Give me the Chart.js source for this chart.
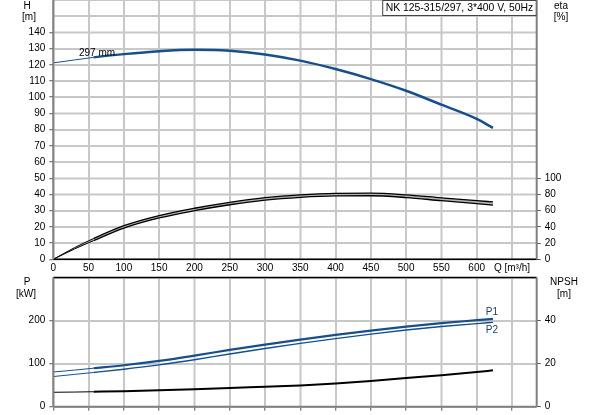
<!DOCTYPE html>
<html>
<head>
<meta charset="utf-8">
<script src="https://cdn.jsdelivr.net/npm/chart.js@4.4.0/dist/chart.umd.min.js"></script>
<style>
  html, body { margin: 0; padding: 0; background: #fff; }
  #wrap { position: relative; width: 593px; height: 415px; overflow: hidden; background: #fff; }
  canvas { position: absolute; left: 0; }
  #grid { top: 0; }
  #top { top: 0; }
  #bottom { top: 270px; }
</style>
</head>
<body>
<div id="wrap">
  <canvas id="grid" width="593" height="415"></canvas>
  <canvas id="top" width="593" height="280"></canvas>
  <canvas id="bottom" width="593" height="145"></canvas>
</div>
<script>
// flow points, m3/h
var flow = [0, 30, 57, 100, 150, 200, 250, 300, 350, 400, 450, 500, 550, 600, 623];
// head curve for the 297 mm impeller, m
var head = [121.2, 123.0, 124.6, 126.6, 128.4, 129.3, 128.7, 126.4, 122.6, 117.4, 111.2, 104.0, 95.4, 86.6, 81.1];
// efficiency, %
var etaHigh = [0, 14.3, 25.6, 41.5, 54.0, 63.0, 70.3, 76.0, 79.6, 81.4, 81.6, 79.5, 75.8, 72.3, 70.8];
var etaLow = [0, 12.7, 23.0, 38.5, 51.0, 60.0, 67.3, 73.0, 76.5, 78.3, 78.4, 76.2, 72.3, 68.6, 66.8];
// power, kW
var powerP1 = [80.5, 85.0, 89.3, 96.3, 106.3, 118.6, 131.9, 144.2, 155.8, 166.7, 176.7, 186.0, 194.0, 200.9, 204.0];
var powerP2 = [70.0, 75.0, 79.5, 87.0, 97.0, 109.0, 122.5, 135.0, 147.0, 158.0, 168.5, 178.0, 186.2, 193.0, 195.8];
// NPSH, m
var npsh = [6.7, 6.8, 6.95, 7.2, 7.6, 8.1, 8.65, 9.3, 9.9, 10.8, 11.9, 13.3, 14.6, 16.1, 16.9];

var qGrid = [0, 50, 100, 150, 200, 250, 300, 350, 400, 450, 500, 550, 600, 650];
var qLabels = ['0', '50', '100', '150', '200', '250', '300', '350', '400', '450', '500', '550', '600', 'Q [m³/h]'];
var qMin = 57;
var title = 'NK 125-315/297, 3*400 V, 50Hz';

var FONT = { family: '"Liberation Sans", Arial, sans-serif', size: 10 };
var FONTSTR = '10px "Liberation Sans", Arial, sans-serif';
var GRID = '#c8c8c8';
var BLUE = '#174f8c';

function pts(ys) {
    return flow.map(function (q, i) { return { x: q, y: ys[i] }; });
}
function fixWidth(w) {
    return function (s) { s.width = w; s.paddingTop = 0; s.paddingBottom = 0; };
}
function fixHeight(h) {
    return function (s) { s.height = h; s.paddingLeft = 0; s.paddingRight = 0; };
}
// thin line below the minimum flow
function thin(w) {
    return function (c) { return c.p1.parsed.x <= qMin ? 1 : w; };
}
function tickUpTo(max) {
    return function (c) { return c.tick && c.tick.value <= max ? '#555' : 'rgba(0,0,0,0)'; };
}

var textPlugin = {
    id: 'texts',
    afterDraw: function (chart, args, opts) {
        var ctx = chart.ctx;
        var a = chart.chartArea;
        ctx.save();
        (opts.frame || []).forEach(function (f) {
            ctx.strokeStyle = f.color;
            ctx.lineWidth = f.width;
            ctx.beginPath();
            if (f.side === 'top') { ctx.moveTo(a.left, a.top); ctx.lineTo(a.right, a.top); }
            if (f.side === 'bottom') { ctx.moveTo(a.left, a.bottom); ctx.lineTo(a.right, a.bottom); }
            if (f.side === 'left') { ctx.moveTo(a.left, a.top); ctx.lineTo(a.left, a.bottom); }
            if (f.side === 'right') { ctx.moveTo(a.right, a.top); ctx.lineTo(a.right, a.bottom); }
            ctx.stroke();
        });
        ctx.font = FONTSTR;
        ctx.textBaseline = 'middle';
        (opts.items || []).forEach(function (t) {
            ctx.fillStyle = t.color || '#000';
            ctx.textAlign = t.align || 'center';
            var x = t.x, y = t.y;
            if (t.q !== undefined) {
                x = chart.scales.x.getPixelForValue(t.q) + (t.dx || 0);
                y = chart.scales[t.axis].getPixelForValue(t.v) + (t.dy || 0);
            }
            ctx.fillText(t.text, x, y);
        });
        if (opts.box) {
            ctx.font = '10.4px "Liberation Sans", Arial, sans-serif';
            var w = ctx.measureText(opts.box).width + 7;
            ctx.fillStyle = '#fff';
            ctx.fillRect(a.right - w, a.top, w, 15.5);
            ctx.strokeStyle = '#444';
            ctx.lineWidth = 1;
            ctx.strokeRect(a.right - w + 0.5, a.top + 0.5, w - 1, 15);
            ctx.fillStyle = '#000';
            ctx.textAlign = 'left';
            ctx.fillText(opts.box, a.right - w + 3.5, a.top + 8);
        }
        ctx.restore();
    }
};

var xScale = function (showLabels, height) {
    return {
        type: 'linear', min: 0, max: 685,
        afterBuildTicks: function (s) {
            s.ticks = qGrid.map(function (v) { return { value: v }; });
        },
        ticks: {
            display: showLabels, font: FONT, color: '#000', padding: 3,
            maxRotation: 0, autoSkip: false,
            callback: function (v, i) { return qLabels[i]; }
        },
        grid: {
            color: GRID, lineWidth: 1.5, drawTicks: !showLabels, tickLength: 4,
            tickColor: '#555', tickWidth: 1
        },
        border: { display: false },
        afterFit: fixHeight(height)
    };
};

var topChart = new Chart(document.getElementById('top'), {
    type: 'line',
    data: {
        datasets: [{
            data: pts(head), yAxisID: 'y', borderColor: BLUE, borderWidth: 2.5,
            segment: { borderWidth: thin(2.5) }
        }, {
            data: pts(etaHigh), yAxisID: 'y1', borderColor: '#000', borderWidth: 1.3,
            segment: { borderWidth: thin(1.3) }
        }, {
            data: pts(etaLow), yAxisID: 'y1', borderColor: '#000', borderWidth: 1.3,
            fill: '-1', backgroundColor: '#b4b4b4',
            segment: { borderWidth: thin(1.3) }
        }]
    },
    options: {
        responsive: false,
        animation: false,
        layout: { padding: 0 },
        elements: { point: { radius: 0 }, line: { cubicInterpolationMode: 'monotone' } },
        plugins: {
            legend: { display: false },
            tooltip: { enabled: false },
            texts: {
                box: title,
                frame: [
                    { side: 'bottom', color: '#000', width: 1.5 },
                    { side: 'left', color: '#808080', width: 2 },
                    { side: 'right', color: '#808080', width: 2 }
                ],
                items: [
                    { text: 'H', x: 27, y: 6 },
                    { text: '[m]', x: 29, y: 17.5 },
                    { text: 'eta', x: 561, y: 6 },
                    { text: '[%]', x: 561, y: 17.5 },
                    { text: '297 mm', q: 36.4, axis: 'y', v: 127, align: 'left' }
                ]
            }
        },
        scales: {
            x: xScale(true, 280 - 259.3),
            y: {
                position: 'left', min: 0, max: 160,
                ticks: {
                    stepSize: 10, font: FONT, color: '#000', padding: 4,
                    callback: function (v) { return v <= 140 ? v : ''; }
                },
                grid: { color: GRID, lineWidth: 1.5, tickLength: 4, tickColor: tickUpTo(140), tickWidth: 1 },
                border: { display: false },
                afterFit: fixWidth(53.3)
            },
            y1: {
                position: 'right', min: 0, max: 320,
                ticks: {
                    stepSize: 20, font: FONT, color: '#000', padding: 4,
                    callback: function (v) { return v <= 100 ? v : ''; }
                },
                grid: { drawOnChartArea: false, tickLength: 4, tickColor: tickUpTo(100), tickWidth: 1 },
                border: { display: false },
                afterFit: fixWidth(593 - 536.7)
            }
        }
    },
    plugins: [textPlugin]
});

var bottomChart = new Chart(document.getElementById('bottom'), {
    type: 'line',
    data: {
        datasets: [{
            data: pts(powerP1), yAxisID: 'y', borderColor: BLUE, borderWidth: 2.2,
            segment: { borderWidth: thin(2.2) }
        }, {
            data: pts(powerP2), yAxisID: 'y', borderColor: BLUE, borderWidth: 1.4,
            segment: { borderWidth: thin(1.4) }
        }, {
            data: pts(npsh), yAxisID: 'y1', borderColor: '#000', borderWidth: 2,
            segment: { borderWidth: thin(2) }
        }]
    },
    options: {
        responsive: false,
        animation: false,
        layout: { padding: { top: 7.5 } },
        elements: { point: { radius: 0 }, line: { cubicInterpolationMode: 'monotone' } },
        plugins: {
            legend: { display: false },
            tooltip: { enabled: false },
            texts: {
                frame: [
                    { side: 'top', color: '#000', width: 1.5 },
                    { side: 'bottom', color: '#808080', width: 2 },
                    { side: 'left', color: '#808080', width: 2 },
                    { side: 'right', color: '#808080', width: 2 }
                ],
                items: [
                    { text: 'P', x: 27, y: 12.7 },
                    { text: '[kW]', x: 26, y: 24 },
                    { text: 'NPSH', x: 564, y: 12.7 },
                    { text: '[m]', x: 564, y: 24 },
                    { text: 'P1', q: 623, axis: 'y', v: 204, dx: -1, dy: -6.5, color: '#23406b' },
                    { text: 'P2', q: 623, axis: 'y', v: 195.8, dx: -1, dy: 7.5, color: '#23406b' }
                ]
            }
        },
        scales: {
            x: xScale(false, 145 - 136.7),
            y: {
                position: 'left', min: 0, max: 300,
                ticks: {
                    stepSize: 100, font: FONT, color: '#000', padding: 4,
                    callback: function (v) { return v < 300 ? v : ''; }
                },
                grid: { color: GRID, lineWidth: 1.5, tickLength: 4, tickColor: tickUpTo(200), tickWidth: 1 },
                border: { display: false },
                afterFit: fixWidth(53.3)
            },
            y1: {
                position: 'right', min: 0, max: 60,
                ticks: {
                    stepSize: 20, font: FONT, color: '#000', padding: 4,
                    callback: function (v) { return v < 60 ? v : ''; }
                },
                grid: { drawOnChartArea: false, tickLength: 4, tickColor: tickUpTo(40), tickWidth: 1 },
                border: { display: false },
                afterFit: fixWidth(593 - 536.7)
            }
        }
    },
    plugins: [textPlugin]
});

// same grid once more on a canvas underneath, placed from the charts' own scales
(function () {
    var g = document.getElementById('grid').getContext('2d');
    g.strokeStyle = GRID;
    g.lineWidth = 1.5;
    g.beginPath();
    [[topChart, 0], [bottomChart, 270]].forEach(function (p) {
        var ch = p[0], off = p[1], a = ch.chartArea;
        ch.scales.x.ticks.forEach(function (t) {
            var px = Math.round(ch.scales.x.getPixelForValue(t.value)) + 0.25;
            g.moveTo(px, a.top + off); g.lineTo(px, a.bottom + off);
        });
        ch.scales.y.ticks.forEach(function (t) {
            var py = Math.round(ch.scales.y.getPixelForValue(t.value)) + off + 0.25;
            g.moveTo(a.left, py); g.lineTo(a.right, py);
        });
    });
    g.stroke();
})();
</script>
</body>
</html>
